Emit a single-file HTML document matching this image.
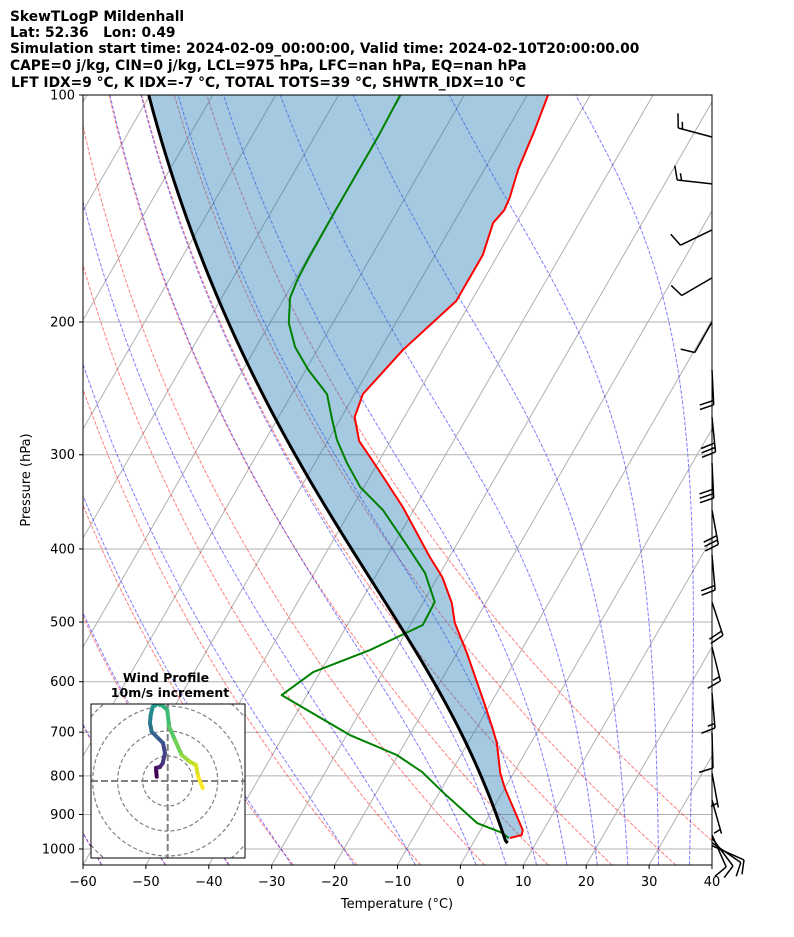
<!DOCTYPE html>
<html><head><meta charset="utf-8"><style>
html,body{margin:0;padding:0;background:#fff}
svg{display:block;font-family:"DejaVu Sans","Liberation Sans",sans-serif}
</style></head><body>
<svg id="chart" width="794" height="937" viewBox="0 0 794 937" xmlns="http://www.w3.org/2000/svg">
<defs>
<clipPath id="plotClip"><rect x="83" y="95" width="629" height="770"/></clipPath>
<clipPath id="hodoClip"><rect x="91" y="704" width="154" height="154"/></clipPath>
</defs>
<g font-weight="bold" font-size="13.8" fill="#000">
<text x="10" y="21">SkewTLogP Mildenhall</text>
<text x="10" y="37">Lat: 52.36&#160;&#160;&#160;Lon: 0.49</text>
<text x="10" y="53">Simulation start time: 2024-02-09_00:00:00, Valid time: 2024-02-10T20:00:00.00</text>
<text x="10" y="70">CAPE=0 j/kg, CIN=0 j/kg, LCL=975 hPa, LFC=nan hPa, EQ=nan hPa</text>
<text x="11" y="87">LFT IDX=9 °C, K IDX=-7 °C, TOTAL TOTS=39 °C, SHWTR_IDX=10 °C</text>
</g>
<g id="grid" clip-path="url(#plotClip)"></g>
<g id="adiabats" clip-path="url(#plotClip)"></g>
<g id="profiles" clip-path="url(#plotClip)"></g>
<rect x="83" y="95" width="629" height="770" fill="none" stroke="#000" stroke-width="1"/>
<g id="axes" font-size="13" fill="#000"></g>
<text x="397" y="908" text-anchor="middle" font-size="13">Temperature (°C)</text>
<text x="30" y="480" text-anchor="middle" font-size="13" transform="rotate(-90 30 480)">Pressure (hPa)</text>
<g id="barbs"></g>
<g id="hodo">
<rect x="91" y="704" width="154" height="154" fill="#fff" stroke="none"/>
<g id="hodoGrid" clip-path="url(#hodoClip)"></g>
<g id="hodoTrace" clip-path="url(#hodoClip)"></g>
<rect x="91" y="704" width="154" height="154" fill="none" stroke="#000" stroke-width="1"/>
<text x="166" y="682" text-anchor="middle" font-size="12.5" font-weight="bold">Wind Profile</text>
<text x="170" y="697" text-anchor="middle" font-size="12.5" font-weight="bold">10m/s increment</text>
</g>
</svg>
<script>
// ---- data ----
const tempP = [100,111.3,125.7,136.6,142.1,147.8,163.0,187.6,217.9,249.3,267.4,287.6,311.5,351.9,410.1,435.8,471.8,501.3,549.8,634.6,689.0,723.5,793.0,830.1,943.7,958.3,967.0];
const tempT = [-56.7,-55.6,-54.6,-53.4,-53.1,-53.7,-52.4,-52.4,-56.4,-58.7,-57.9,-55.0,-49.8,-42.0,-33.1,-29.3,-25.4,-23.1,-18.4,-11.5,-7.6,-5.4,-2.1,0.0,6.7,7.0,5.4];
const dewP = [100,113.7,142.1,164.0,175.9,185.9,200.6,215.9,231.5,249.3,269.8,286.8,307.7,331.1,355.1,389.2,430.5,470.4,504.6,544.7,582.5,625.0,706.1,750.5,790.6,840.4,923.8,952.6,967.0];
const dewT = [-80.2,-79.9,-79.9,-79.8,-79.6,-79.1,-77.0,-73.8,-69.6,-64.4,-61.2,-58.6,-54.9,-50.6,-44.9,-38.9,-32.4,-28.2,-28.0,-34.1,-41.1,-44.0,-29.5,-20.2,-14.6,-9.5,-1.2,3.8,5.2];
const sfcP = 982, sfcT = 5.5, lclP = 975;
const pressTicks = [100,200,300,400,500,600,700,800,900,1000];
const tempTicks = [-60,-50,-40,-30,-20,-10,0,10,20,30,40];
const dryT0 = [-60,-50,-40,-30,-20,-10,0,10,20,30,40];
const moistT0 = [-60,-50,-40,-30,-20,-10,0,5,10,15,20,25,30,35,40];
const barbP = [113.7,131.2,151.0,174.8,200,231.5,267.4,307.7,355.1,407.6,470.4,539.7,621.2,701.8,793,861,958,967,981,990];
const barbU = [14.5,15,8.9,8.6,4.9,-1,-3,-1.5,-5.4,-1.8,-6.2,-3.6,-1.3,-0.3,-0.9,-1.35,-4,-6,-8,-9];
const barbV = [-3.9,-1.7,4.3,5.0,8.7,20,30,30,29.4,20,19,14.6,15,10,4.9,4.8,9,8,5.5,4];
const hodoU = [-4.4,-4.7,-3.1,-2.0,-1.1,-1.9,-4.4,-6.4,-7.1,-6.8,-6.0,-4.4,-2.4,-0.2,0.6,2.9,5.6,8.9,11.3,12.2,14.0];
const hodoV = [1.7,5.2,5.6,7.1,11.2,15.2,17.7,19.7,23.2,26.4,29.7,30.8,30.4,28.4,21.7,16.4,10.4,7.7,6.4,1.7,-2.8];

// ---- axes functions ----
const NS='http://www.w3.org/2000/svg';
const PX0=83, PTOP=95, PBOT=865, XS=6.29, SK=0.577;
function Y(p){return 95+754*Math.log10(p/100);}
function X(T,p){return PX0+(T+60)*XS+SK*(PBOT-Y(p));}
function el(tag,attrs,parent){const e=document.createElementNS(NS,tag);for(const k in attrs)e.setAttribute(k,attrs[k]);parent.appendChild(e);return e;}
function pathD(ps,ts){return ps.map((p,i)=>(i?'L':'M')+X(ts[i],p).toFixed(2)+','+Y(p).toFixed(2)).join('');}
const grid=document.getElementById('grid');
const adi=document.getElementById('adiabats');
const prof=document.getElementById('profiles');
const axes=document.getElementById('axes');

pressTicks.forEach(p=>{
  const l=el('line',{x1:83,x2:712,y1:Y(p),y2:Y(p),stroke:'#b0b0b0','stroke-width':1},grid);
  
  
  const t=el('line',{x1:79,x2:83,y1:Y(p),y2:Y(p),stroke:'#000','stroke-width':1},axes);
  
  
  const tx=el('text',{x:75,y:Y(p)+4.5,'text-anchor':'end'},axes);
  tx.textContent=p;
  
  
});
for(let T=-170;T<=40;T+=10){
  const l=el('line',{x1:X(T,1050),y1:PBOT,x2:X(T,100),y2:PTOP,stroke:'#b0b0b0','stroke-width':1},grid);
  
  
}
tempTicks.forEach(T=>{
  const x=PX0+(T+60)*XS;
  const t=el('line',{x1:x,x2:x,y1:865,y2:869,stroke:'#000','stroke-width':1},axes);
  
  
  const tx=el('text',{x:x,y:886,'text-anchor':'middle'},axes);
  tx.textContent=(T<0?'\u2212'+(-T):''+T);
  
  
});
const levels=[];for(let p=1050;p>=100;p-=10)levels.push(p);
dryT0.forEach(t0=>{
  const ts=levels.map(p=>(t0+273.15)*Math.pow(p/1000,0.2857)-273.15);
  const l=el('path',{d:pathD(levels,ts),fill:'none',stroke:'#ff0000','stroke-opacity':0.5,'stroke-width':1,'stroke-dasharray':'3.7,1.6'},adi);
  
  
});
function lapse(T,p){
  const Rd=287.04749,Cp=1005.7,Lv=2.50084e6,eps=0.6219569;
  const tc=T-273.15;const es=6.112*Math.exp(17.67*tc/(tc+243.5));
  const rs=eps*es/Math.max(p-es,1e-3);
  return (Rd*T+Lv*rs)/(Cp+Lv*Lv*rs*eps/(Rd*T*T))/p;
}
function integ(T,pa,pb){
  const n=Math.max(1,Math.ceil(Math.abs(pb-pa)/4));const h=(pb-pa)/n;let p=pa;
  for(let i=0;i<n;i++){const k1=lapse(T,p),k2=lapse(T+h*k1/2,p+h/2),k3=lapse(T+h*k2/2,p+h/2),k4=lapse(T+h*k3,p+h);T+=h*(k1+2*k2+2*k3+k4)/6;p+=h;}
  return T;
}
function moist(t0c,p0,ps){
  let T=t0c+273.15,p=p0;const out=[];
  ps.forEach(pp=>{T=integ(T,p,pp);p=pp;out.push(T-273.15);});return out;
}
moistT0.forEach(t0=>{
  const up=levels.filter(p=>p<=1000);
  const ts=moist(t0,1000,up);
  const tb=integ(t0+273.15,1000,1050)-273.15;
  const l=el('path',{d:pathD([1050].concat(up),[tb].concat(ts)),fill:'none',stroke:'#0000ff','stroke-opacity':0.5,'stroke-width':1,'stroke-dasharray':'3.7,1.6'},adi);
  
  
});
const lclT=(sfcT+273.15)*Math.pow(lclP/sfcP,0.2857)-273.15;
const parP=[lclP];for(let p=970;p>=100;p-=5)parP.push(p);
const parT=[lclT].concat(moist(lclT,lclP,parP.slice(1)));
const parPall=[sfcP].concat(parP), parTall=[sfcT].concat(parT);
let d=pathD(tempP,tempT);
parPall.forEach((p,i)=>{d+='L'+X(parTall[i],p).toFixed(2)+','+Y(p).toFixed(2);});
const sh=el('path',{d:d+'Z',fill:'#1f77b4','fill-opacity':0.4,stroke:'none'},prof);


const tl=el('path',{d:pathD(tempP,tempT),fill:'none',stroke:'#ff0000','stroke-width':2,'stroke-linejoin':'round'},prof);


const dl=el('path',{d:pathD(dewP,dewT),fill:'none',stroke:'#008000','stroke-width':2,'stroke-linejoin':'round'},prof);


const pl=el('path',{d:pathD(parPall,parTall),fill:'none',stroke:'#000','stroke-width':3,'stroke-linejoin':'round'},prof);



const bg=document.getElementById('barbs');
const L=35,SP=4.4,H=14,W=4;
barbP.forEach((p,i)=>{
  const u=barbU[i],v=barbV[i];const s=Math.hypot(u,v);
  const dx=-u/s,dy=v/s;const nx=-dy,ny=dx;
  const bx=712,by=Y(p);const tx=bx+L*dx,ty=by+L*dy;
  let dd='M'+bx.toFixed(1)+','+by.toFixed(1)+'L'+tx.toFixed(1)+','+ty.toFixed(1);
  let r=Math.round(s/5)*5;let nf=Math.floor(r/10);let nh=(r%10)?1:0;let k=0;
  for(let j=0;j<nf;j++){const sx=tx-k*SP*dx,sy=ty-k*SP*dy;dd+='M'+sx.toFixed(1)+','+sy.toFixed(1)+'L'+(sx+H*nx+W*dx).toFixed(1)+','+(sy+H*ny+W*dy).toFixed(1);k++;}
  if(nh){if(nf===0)k=1;const sx=tx-k*SP*dx,sy=ty-k*SP*dy;dd+='M'+sx.toFixed(1)+','+sy.toFixed(1)+'L'+(sx+H/2*nx+W/2*dx).toFixed(1)+','+(sy+H/2*ny+W/2*dy).toFixed(1);}
  const b=el('path',{d:dd,fill:'none',stroke:'#000','stroke-width':1.5},bg);
  
  
});

const HC={x:167.7,y:781},HS=2.5;
const hg=document.getElementById('hodoGrid');
[25,50,75,100].forEach(r=>{
  const c=el('circle',{cx:HC.x,cy:HC.y,r:r,fill:'none',stroke:'#808080','stroke-width':1.2,'stroke-dasharray':'4,2.5'},hg);
  
  
});
const hx=el('line',{x1:91,x2:245,y1:HC.y,y2:HC.y,stroke:'#808080','stroke-width':2,'stroke-dasharray':'7,3'},hg);


const hy=el('line',{x1:HC.x,x2:HC.x,y1:704,y2:858,stroke:'#808080','stroke-width':2,'stroke-dasharray':'7,3'},hg);


const vir=[[68,1,84],[72,36,117],[65,68,135],[53,95,141],[42,120,142],[33,145,140],[34,168,132],[68,191,112],[122,209,81],[189,223,38],[253,231,37]];
function viridis(f){const x=f*10;const i=Math.min(9,Math.floor(x));const t=x-i;const a=vir[i],b=vir[i+1];return 'rgb('+a.map((c,j)=>Math.round(c+(b[j]-c)*t)).join(',')+')';}
const ht=document.getElementById('hodoTrace');
for(let i=0;i<hodoU.length-1;i++){
  const s=el('line',{x1:HC.x+hodoU[i]*HS,y1:HC.y-hodoV[i]*HS,x2:HC.x+hodoU[i+1]*HS,y2:HC.y-hodoV[i+1]*HS,stroke:viridis(i/(hodoU.length-2)),'stroke-width':4,'stroke-linecap':'round'},ht);
  
  
}
</script>
</body></html>
